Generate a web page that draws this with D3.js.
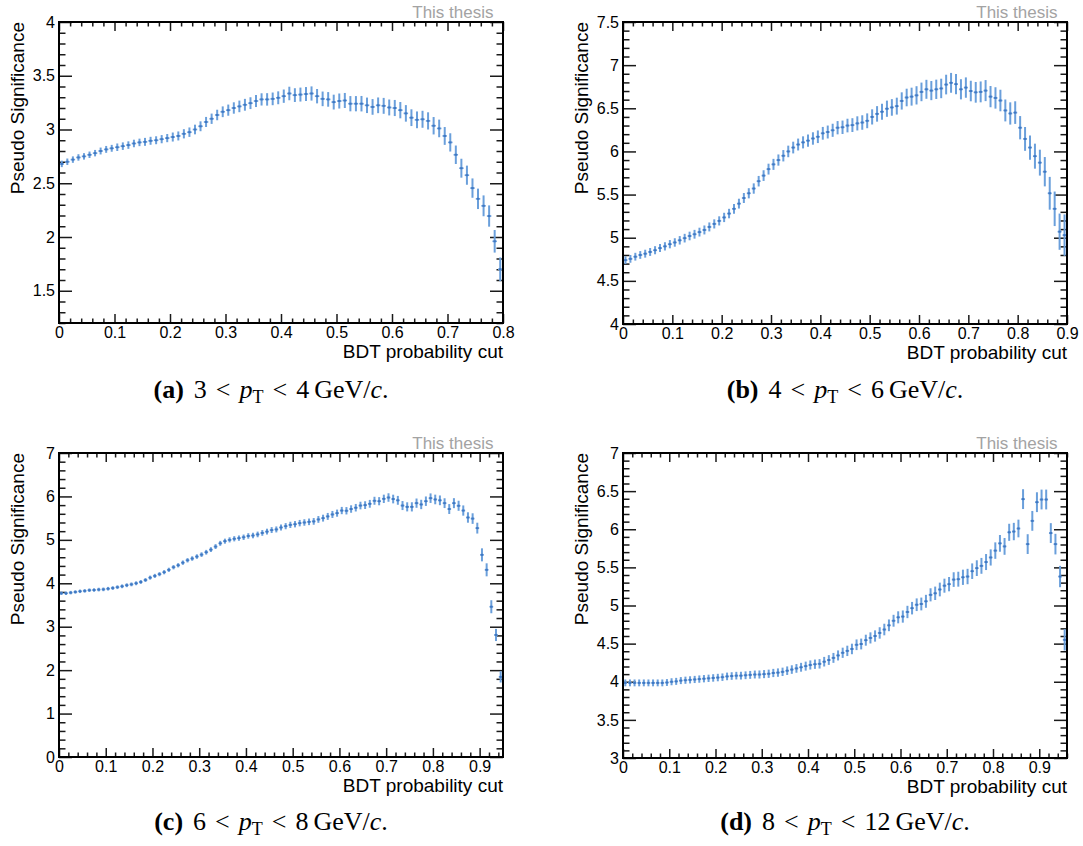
<!DOCTYPE html>
<html>
<head>
<meta charset="utf-8">
<script src="https://cdn.jsdelivr.net/npm/d3@7"></script>
<style>
  html, body { margin: 0; padding: 0; background: #ffffff; }
  svg { display: block; }
</style>
</head>
<body>
<svg id="fig" width="1083" height="846"></svg>
<script>
// Pseudo significance versus BDT probability cut, one histogram per pT interval.
// Bins are 0.01 wide and start at 0; each value sits at its bin centre.
const binWidth = 0.01;

// (a) 3 < pT < 4 GeV/c
const sigA = [
  2.68, 2.70, 2.72, 2.74, 2.75, 2.765, 2.78, 2.80, 2.815, 2.825,
  2.835, 2.845, 2.855, 2.87, 2.88, 2.885, 2.895, 2.90, 2.91, 2.92,
  2.93, 2.94, 2.96, 2.975, 3.00, 3.03, 3.07, 3.10, 3.135, 3.165,
  3.18, 3.20, 3.215, 3.23, 3.245, 3.265, 3.28, 3.28, 3.285, 3.295,
  3.31, 3.335, 3.32, 3.325, 3.33, 3.335, 3.31, 3.285, 3.28, 3.255,
  3.265, 3.27, 3.24, 3.24, 3.24, 3.225, 3.21, 3.225, 3.22, 3.205,
  3.20, 3.18, 3.15, 3.11, 3.09, 3.095, 3.08, 3.035, 3.01, 2.94,
  2.88, 2.765, 2.64, 2.575, 2.455, 2.355, 2.29, 2.195, 1.96, 1.70
];
const errA = [
  0.030, 0.030, 0.030, 0.030, 0.030, 0.030, 0.030, 0.032, 0.032, 0.032,
  0.035, 0.035, 0.035, 0.035, 0.035, 0.037, 0.037, 0.037, 0.038, 0.038,
  0.042, 0.042, 0.043, 0.044, 0.045, 0.046, 0.047, 0.048, 0.049, 0.050,
  0.052, 0.053, 0.054, 0.055, 0.055, 0.056, 0.057, 0.058, 0.059, 0.060,
  0.062, 0.063, 0.064, 0.065, 0.065, 0.066, 0.067, 0.068, 0.068, 0.069,
  0.070, 0.070, 0.071, 0.071, 0.072, 0.072, 0.073, 0.073, 0.074, 0.074,
  0.075, 0.076, 0.077, 0.078, 0.078, 0.079, 0.080, 0.081, 0.082, 0.083,
  0.085, 0.086, 0.088, 0.089, 0.090, 0.095, 0.097, 0.099, 0.105, 0.110
];

// (b) 4 < pT < 6 GeV/c
const sigB = [
  4.74, 4.755, 4.78, 4.80, 4.815, 4.835, 4.855, 4.88, 4.90, 4.925,
  4.945, 4.97, 4.995, 5.02, 5.04, 5.065, 5.09, 5.125, 5.16, 5.195,
  5.235, 5.28, 5.335, 5.395, 5.46, 5.515, 5.57, 5.655, 5.72, 5.795,
  5.85, 5.90, 5.95, 6.00, 6.045, 6.08, 6.105, 6.125, 6.15, 6.17,
  6.21, 6.225, 6.245, 6.275, 6.28, 6.30, 6.305, 6.325, 6.335, 6.355,
  6.40, 6.435, 6.46, 6.495, 6.51, 6.525, 6.585, 6.625, 6.635, 6.65,
  6.69, 6.72, 6.705, 6.72, 6.73, 6.775, 6.795, 6.78, 6.72, 6.74,
  6.70, 6.685, 6.69, 6.705, 6.635, 6.62, 6.59, 6.475, 6.44, 6.45,
  6.275, 6.145, 6.045, 5.945, 5.87, 5.765, 5.515, 5.335, 5.07, 5.03
];
const errB = [
  0.045, 0.045, 0.045, 0.045, 0.046, 0.046, 0.047, 0.047, 0.048, 0.048,
  0.049, 0.049, 0.050, 0.050, 0.051, 0.051, 0.052, 0.052, 0.053, 0.053,
  0.054, 0.055, 0.056, 0.057, 0.058, 0.059, 0.060, 0.061, 0.062, 0.063,
  0.064, 0.065, 0.066, 0.067, 0.068, 0.069, 0.070, 0.071, 0.072, 0.073,
  0.074, 0.075, 0.076, 0.077, 0.078, 0.079, 0.080, 0.082, 0.084, 0.086,
  0.088, 0.090, 0.092, 0.094, 0.096, 0.098, 0.100, 0.102, 0.104, 0.106,
  0.108, 0.110, 0.111, 0.112, 0.113, 0.114, 0.115, 0.116, 0.117, 0.118,
  0.119, 0.120, 0.121, 0.122, 0.123, 0.124, 0.125, 0.127, 0.129, 0.131,
  0.135, 0.138, 0.141, 0.145, 0.150, 0.170, 0.190, 0.200, 0.210, 0.240
];

// (c) 6 < pT < 8 GeV/c
const sigC = [
  3.77, 3.77, 3.785, 3.80, 3.815, 3.825, 3.84, 3.845, 3.855, 3.86,
  3.875, 3.89, 3.91, 3.93, 3.955, 3.975, 4.00, 4.03, 4.075, 4.13,
  4.17, 4.21, 4.255, 4.31, 4.37, 4.415, 4.475, 4.53, 4.57, 4.615,
  4.66, 4.715, 4.775, 4.845, 4.92, 4.97, 5.00, 5.025, 5.04, 5.06,
  5.09, 5.10, 5.125, 5.16, 5.19, 5.225, 5.24, 5.285, 5.315, 5.345,
  5.36, 5.385, 5.40, 5.415, 5.425, 5.47, 5.50, 5.54, 5.585, 5.615,
  5.675, 5.67, 5.71, 5.74, 5.79, 5.80, 5.83, 5.90, 5.89, 5.945,
  5.975, 5.94, 5.91, 5.79, 5.76, 5.76, 5.845, 5.815, 5.89, 5.96,
  5.93, 5.91, 5.845, 5.71, 5.845, 5.785, 5.675, 5.515, 5.49, 5.27,
  4.655, 4.31, 3.46, 2.81, 1.845
];
const errC = [
  0.040, 0.040, 0.040, 0.040, 0.040, 0.041, 0.041, 0.041, 0.042, 0.042,
  0.042, 0.043, 0.043, 0.043, 0.044, 0.044, 0.045, 0.045, 0.046, 0.046,
  0.047, 0.047, 0.048, 0.048, 0.049, 0.049, 0.050, 0.050, 0.051, 0.052,
  0.053, 0.054, 0.055, 0.056, 0.057, 0.058, 0.059, 0.060, 0.061, 0.062,
  0.063, 0.064, 0.065, 0.066, 0.067, 0.068, 0.069, 0.070, 0.071, 0.072,
  0.073, 0.074, 0.075, 0.076, 0.077, 0.078, 0.079, 0.080, 0.081, 0.082,
  0.084, 0.085, 0.086, 0.087, 0.088, 0.089, 0.090, 0.092, 0.094, 0.096,
  0.098, 0.100, 0.102, 0.104, 0.105, 0.106, 0.107, 0.108, 0.109, 0.110,
  0.111, 0.112, 0.113, 0.114, 0.115, 0.116, 0.118, 0.120, 0.122, 0.125,
  0.150, 0.150, 0.150, 0.140, 0.130
];

// (d) 8 < pT < 12 GeV/c
const sigD = [
  3.985, 3.985, 3.985, 3.985, 3.985, 3.985, 3.985, 3.985, 3.985, 3.99,
  4.00, 4.005, 4.015, 4.02, 4.025, 4.03, 4.035, 4.04, 4.045, 4.05,
  4.055, 4.06, 4.07, 4.075, 4.08, 4.08, 4.085, 4.09, 4.095, 4.095,
  4.10, 4.105, 4.115, 4.12, 4.13, 4.145, 4.16, 4.175, 4.19, 4.205,
  4.22, 4.23, 4.235, 4.263, 4.285, 4.313, 4.345, 4.38, 4.405, 4.43,
  4.485, 4.495, 4.545, 4.575, 4.60, 4.64, 4.685, 4.74, 4.80, 4.845,
  4.855, 4.915, 4.965, 5.01, 5.02, 5.055, 5.14, 5.16, 5.21, 5.26,
  5.28, 5.34, 5.345, 5.37, 5.38, 5.45, 5.49, 5.52, 5.57, 5.63,
  5.72, 5.815, 5.775, 5.96, 5.97, 6.01, 6.395, 5.805, 6.11, 6.355,
  6.39, 6.39, 5.95, 5.805, 5.38, 4.55
];
const errD = [
  0.045, 0.045, 0.045, 0.045, 0.045, 0.045, 0.045, 0.045, 0.045, 0.045,
  0.046, 0.046, 0.046, 0.047, 0.047, 0.047, 0.048, 0.048, 0.048, 0.049,
  0.049, 0.049, 0.050, 0.050, 0.050, 0.051, 0.051, 0.052, 0.052, 0.053,
  0.053, 0.054, 0.054, 0.055, 0.055, 0.056, 0.056, 0.057, 0.058, 0.059,
  0.060, 0.061, 0.062, 0.063, 0.064, 0.065, 0.066, 0.067, 0.068, 0.069,
  0.070, 0.071, 0.072, 0.073, 0.074, 0.075, 0.076, 0.077, 0.078, 0.079,
  0.080, 0.081, 0.082, 0.083, 0.084, 0.085, 0.086, 0.088, 0.090, 0.092,
  0.094, 0.096, 0.098, 0.100, 0.101, 0.102, 0.103, 0.104, 0.105, 0.106,
  0.108, 0.110, 0.110, 0.112, 0.114, 0.116, 0.130, 0.130, 0.130, 0.130,
  0.130, 0.130, 0.130, 0.135, 0.140, 0.140
];

// Axis ranges and tick steps per panel
const xMaxes   = [0.80, 0.90, 0.95, 0.96];
const yRanges  = [[1.2, 4], [4, 7.5], [0, 7], [3, 7]];
const yMajorSteps = [0.5, 0.5, 1, 0.5];
const yMinorSteps = [0.1, 0.1, 0.2, 0.1];
const xMajorStep = 0.1, xMinorStep = 0.02;

// Caption pieces: panel letter, lower and upper pT edge
const captionLetters = ["a", "b", "c", "d"];
const ptLow  = ["3", "4", "6", "8"];
const ptHigh = ["4", "6", "8", "12"];

const xTitle = "BDT probability cut";
const yTitle = "Pseudo Significance";
const watermark = "This thesis";

// Frame placement of each pad
const frames = [
  { left: 59,  top: 22,  width: 444, height: 301 },
  { left: 623, top: 22,  width: 444, height: 302 },
  { left: 59,  top: 453, width: 444, height: 304 },
  { left: 623, top: 453, width: 444, height: 305 }
];
const captionCentres = [{ x: 271, y: 398 }, { x: 845, y: 398 }, { x: 271, y: 830 }, { x: 845, y: 830 }];

const series = [
  { vals: sigA, errs: errA },
  { vals: sigB, errs: errB },
  { vals: sigC, errs: errC },
  { vals: sigD, errs: errD }
];

const svg = d3.select("#fig");
svg.append("rect").attr("width", 1083).attr("height", 846).attr("fill", "#ffffff");

const sansFont = "'Liberation Sans', Arial, Helvetica, sans-serif";
const serifFont = "'Liberation Serif', 'Times New Roman', serif";
const markColour = "#6a9fdb";
const markerColour = "#3f77c2";
const tickColour = "#1a1a1a";

// evenly spaced values from lo to hi (inclusive), rounded to avoid float drift
function steps(lo, hi, step) {
  const out = [];
  const n = Math.floor((hi - lo) / step + 1e-6);
  for (let k = 0; k <= n; k++) out.push(+(lo + k * step).toFixed(6));
  return out;
}
function fmt(v) {
  return String(Math.round(v * 10) / 10);
}
function notIn(list) {
  return v => !list.some(m => Math.abs(m - v) < 1e-6);
}

frames.forEach((f, p) => {
  const xMax = xMaxes[p];
  const [yLo, yHi] = yRanges[p];
  const x = d3.scaleLinear().domain([0, xMax]).range([f.left, f.left + f.width]);
  const y = d3.scaleLinear().domain([yLo, yHi]).range([f.top + f.height, f.top]);

  const g = svg.append("g");

  const clipId = "clip-" + captionLetters[p];
  svg.append("clipPath").attr("id", clipId)
    .append("rect").attr("x", f.left).attr("y", f.top).attr("width", f.width).attr("height", f.height);

  const xMajor = steps(0, xMax, xMajorStep);
  const xMinor = steps(0, xMax, xMinorStep).filter(notIn(xMajor));
  const yFirst = Math.ceil(yLo / yMajorSteps[p] - 1e-6) * yMajorSteps[p];
  const yMajor = steps(yFirst, yHi, yMajorSteps[p]);
  const yMinor = steps(yLo, yHi, yMinorSteps[p]).filter(notIn(yMajor));

  const xLong = 9, xShort = 4.5, yLong = 13, yShort = 6.5;

  function styleAxis(sel) {
    sel.select(".domain").remove();
    sel.selectAll(".tick line").attr("stroke", tickColour).attr("stroke-width", 1.5);
    sel.selectAll("text").attr("font-family", sansFont).attr("font-size", 16).attr("fill", "#000");
  }

  // bottom axis with labels
  g.append("g").attr("transform", `translate(0,${f.top + f.height})`)
    .call(d3.axisBottom(x).tickValues(xMajor).tickSize(-xLong).tickPadding(4).tickFormat(fmt))
    .call(styleAxis);
  g.append("g").attr("transform", `translate(0,${f.top + f.height})`)
    .call(d3.axisBottom(x).tickValues(xMinor).tickSize(-xShort).tickFormat(""))
    .call(styleAxis);
  // top axis, ticks only
  g.append("g").attr("transform", `translate(0,${f.top})`)
    .call(d3.axisTop(x).tickValues(xMajor).tickSize(-xLong).tickFormat(""))
    .call(styleAxis);
  g.append("g").attr("transform", `translate(0,${f.top})`)
    .call(d3.axisTop(x).tickValues(xMinor).tickSize(-xShort).tickFormat(""))
    .call(styleAxis);
  // left axis with labels
  g.append("g").attr("transform", `translate(${f.left},0)`)
    .call(d3.axisLeft(y).tickValues(yMajor).tickSize(-yLong).tickPadding(4).tickFormat(fmt))
    .call(styleAxis);
  g.append("g").attr("transform", `translate(${f.left},0)`)
    .call(d3.axisLeft(y).tickValues(yMinor).tickSize(-yShort).tickFormat(""))
    .call(styleAxis);
  // right axis, ticks only
  g.append("g").attr("transform", `translate(${f.left + f.width},0)`)
    .call(d3.axisRight(y).tickValues(yMajor).tickSize(-yLong).tickFormat(""))
    .call(styleAxis);
  g.append("g").attr("transform", `translate(${f.left + f.width},0)`)
    .call(d3.axisRight(y).tickValues(yMinor).tickSize(-yShort).tickFormat(""))
    .call(styleAxis);

  // error-bar markers
  const { vals, errs } = series[p];
  const pts = vals.map((v, i) => ({ c: (i + 0.5) * binWidth, v, e: errs[i] }));
  const marks = g.append("g").attr("clip-path", `url(#${clipId})`);
  const halfBar = 0.4 * binWidth;
  marks.selectAll("line.ev").data(pts).join("line").attr("class", "ev")
    .attr("x1", d => x(d.c)).attr("x2", d => x(d.c))
    .attr("y1", d => y(d.v - d.e)).attr("y2", d => y(d.v + d.e))
    .attr("stroke", markColour).attr("stroke-width", 2);
  marks.selectAll("line.eh").data(pts).join("line").attr("class", "eh")
    .attr("x1", d => x(d.c - halfBar)).attr("x2", d => x(d.c + halfBar))
    .attr("y1", d => y(d.v)).attr("y2", d => y(d.v))
    .attr("stroke", markColour).attr("stroke-width", 1.6);
  marks.selectAll("rect.mk").data(pts).join("rect").attr("class", "mk")
    .attr("x", d => x(d.c) - 1.2).attr("y", d => y(d.v) - 1)
    .attr("width", 2.4).attr("height", 2)
    .attr("fill", markerColour);

  // frame
  g.append("rect").attr("x", f.left).attr("y", f.top).attr("width", f.width).attr("height", f.height)
    .attr("fill", "none").attr("stroke", "#000").attr("stroke-width", 2);

  // titles
  g.append("text").attr("x", f.left + f.width).attr("y", f.top + f.height + 35)
    .attr("text-anchor", "end").attr("font-family", sansFont).attr("font-size", 19)
    .text(xTitle);
  g.append("text").attr("transform", `translate(${f.left - 35.5},${f.top}) rotate(-90)`)
    .attr("text-anchor", "end").attr("font-family", sansFont).attr("font-size", 19)
    .text(yTitle);
  g.append("text").attr("x", f.left + f.width - 9.5).attr("y", f.top - 4.5)
    .attr("text-anchor", "end").attr("font-family", sansFont).attr("font-size", 17)
    .attr("fill", "#a3a3a3").text(watermark);

  // caption: (x) lo < pT < hi GeV/c.
  const cap = svg.append("text").attr("x", captionCentres[p].x).attr("y", captionCentres[p].y)
    .attr("text-anchor", "middle").attr("font-family", serifFont).attr("font-size", 26).attr("fill", "#000");
  cap.append("tspan").attr("font-weight", "bold").text(`(${captionLetters[p]})`);
  cap.append("tspan").attr("dx", 10).text(ptLow[p]);
  cap.append("tspan").attr("dx", 9).text("<");
  cap.append("tspan").attr("dx", 9).attr("font-style", "italic").text("p");
  cap.append("tspan").attr("font-size", 18).attr("dy", 5).text("T");
  cap.append("tspan").attr("dx", 9).attr("dy", -5).text("<");
  cap.append("tspan").attr("dx", 9).text(ptHigh[p]);
  cap.append("tspan").attr("dx", 5).text("GeV/");
  cap.append("tspan").attr("font-style", "italic").text("c");
  cap.append("tspan").text(".");
});
</script>
</body>
</html>
